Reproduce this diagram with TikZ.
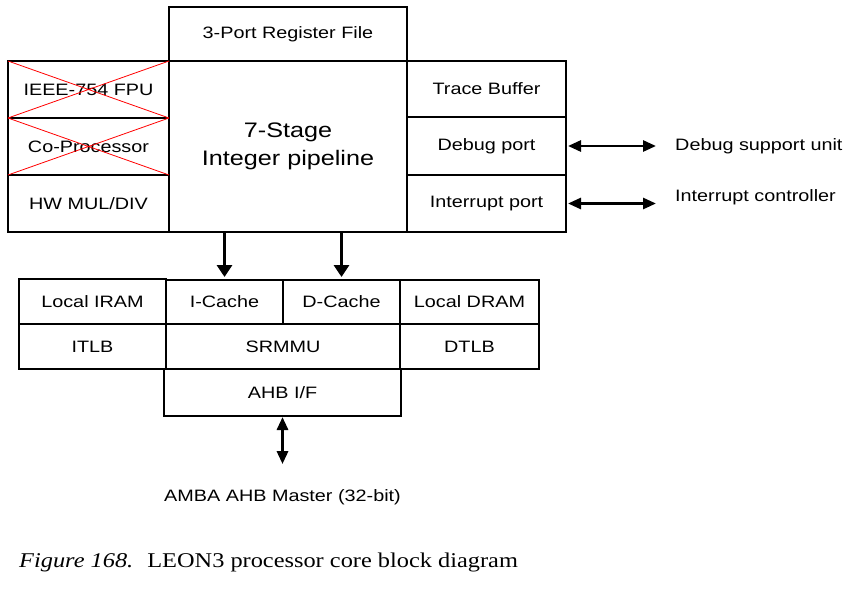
\documentclass[tikz,border=0pt]{standalone}
\usepackage{fontspec}
\setmainfont[FakeStretch=1.2]{Liberation Sans}
\newfontfamily\capfont[FakeStretch=1.16]{Liberation Serif}
\usetikzlibrary{arrows.meta}
\newcommand{\blk}[0]{\fontsize{16.5}{19}\selectfont}
\newcommand{\bigblk}[0]{\fontsize{21}{28}\selectfont}

\begin{document}
\begin{tikzpicture}[x=1pt, y=-1pt, %
      bx/.style={draw, line width=2.3pt, inner sep=0pt, outer sep=0pt, align=center, font=\blk}, %
      big/.style={font=\bigblk}, %
      nb/.style={}, %
      cross/.style={red, line width=0.8pt}, %
      dn/.style={-{Triangle[width=15pt,length=12pt]}, line width=3pt}, %
      bi/.style={{Triangle[width=11pt,length=13pt]}-{Triangle[width=11pt,length=13pt]}, line width=2.7pt}, %
      lab/.style={inner sep=0pt, font=\blk}, %
      ]
    \useasboundingbox (0,0) rectangle (855,589);

    \foreach \a/\x/\y/\w/\h/\opt/\txt in { %
      regf/  288/34/238/54/nb/{3-Port Register File},%
      fpu/   88.5/89.5/161/57/nb/{IEEE-754 FPU},%
      copr/  88.5/146.5/161/57/nb/{Co-Processor},%
      muldiv/88.5/203.5/161/57/nb/{HW MUL/DIV},%
      pipe/  288/146.5/238/171/big/{7-Stage\\Integer pipeline},%
      trace/ 486.5/89/159/56/nb/{Trace Buffer},%
      dbgp/  486.5/146/159/58/nb/{Debug port},%
      irqp/  486.5/203.5/159/57/nb/{Interrupt port},%
      iram/  92.5/301.5/147/45/nb/{Local IRAM},%
      itlb/  92.5/346.5/147/45/nb/{ITLB},%
      icache/224.5/302/117/44/nb/{I-Cache},%
      dcache/341.5/302/117/44/nb/{D-Cache},%
      srmmu/ 283/346.5/234/45/nb/{SRMMU},%
      dram/  469.5/302/139/44/nb/{Local DRAM},%
      dtlb/  469.5/346.5/139/45/nb/{DTLB},%
      ahb/   282.5/392.5/237/47/nb/{AHB I/F}%
    }{ %
      \node[bx, \opt, minimum width=\w pt, minimum height=\h pt] (\a) at (\x,\y) {\txt};
    }

    % crossed out units
    \foreach \a in {fpu, copr}{ %
      \draw[cross] (\a.north west) -- (\a.south east) (\a.south west) -- (\a.north east);
    }

    \foreach \to in {icache, dcache}{ %
      \draw[dn, shorten >=3pt] (\to.north |- pipe.south) -- (\to.north);
    }

    \node[lab, anchor=west] (dsu) at (675,146) {Debug support unit};
    \node[lab, anchor=west] (irqc) at (675,197) {Interrupt controller};
    \node[lab] (amba) at (282.5,497) {AMBA AHB Master (32-bit)};

    \draw[bi, shorten <=2pt, shorten >=19pt] (dbgp.east) -- (dsu.west);
    \draw[bi, shorten <=2pt, shorten >=19pt] (irqp.east) -- (irqp.east -| irqc.west);
    \draw[bi, line width=3pt, shorten <=1pt, shorten >=25pt] (ahb) -- (amba);

    \node[inner sep=0pt, anchor=base west, font=\capfont\fontsize{21}{25}\selectfont] (cap) at (19,567) %
      {\itshape Figure 168.\hspace{14pt}\upshape LEON3 processor core block diagram};
\end{tikzpicture}
\end{document}
